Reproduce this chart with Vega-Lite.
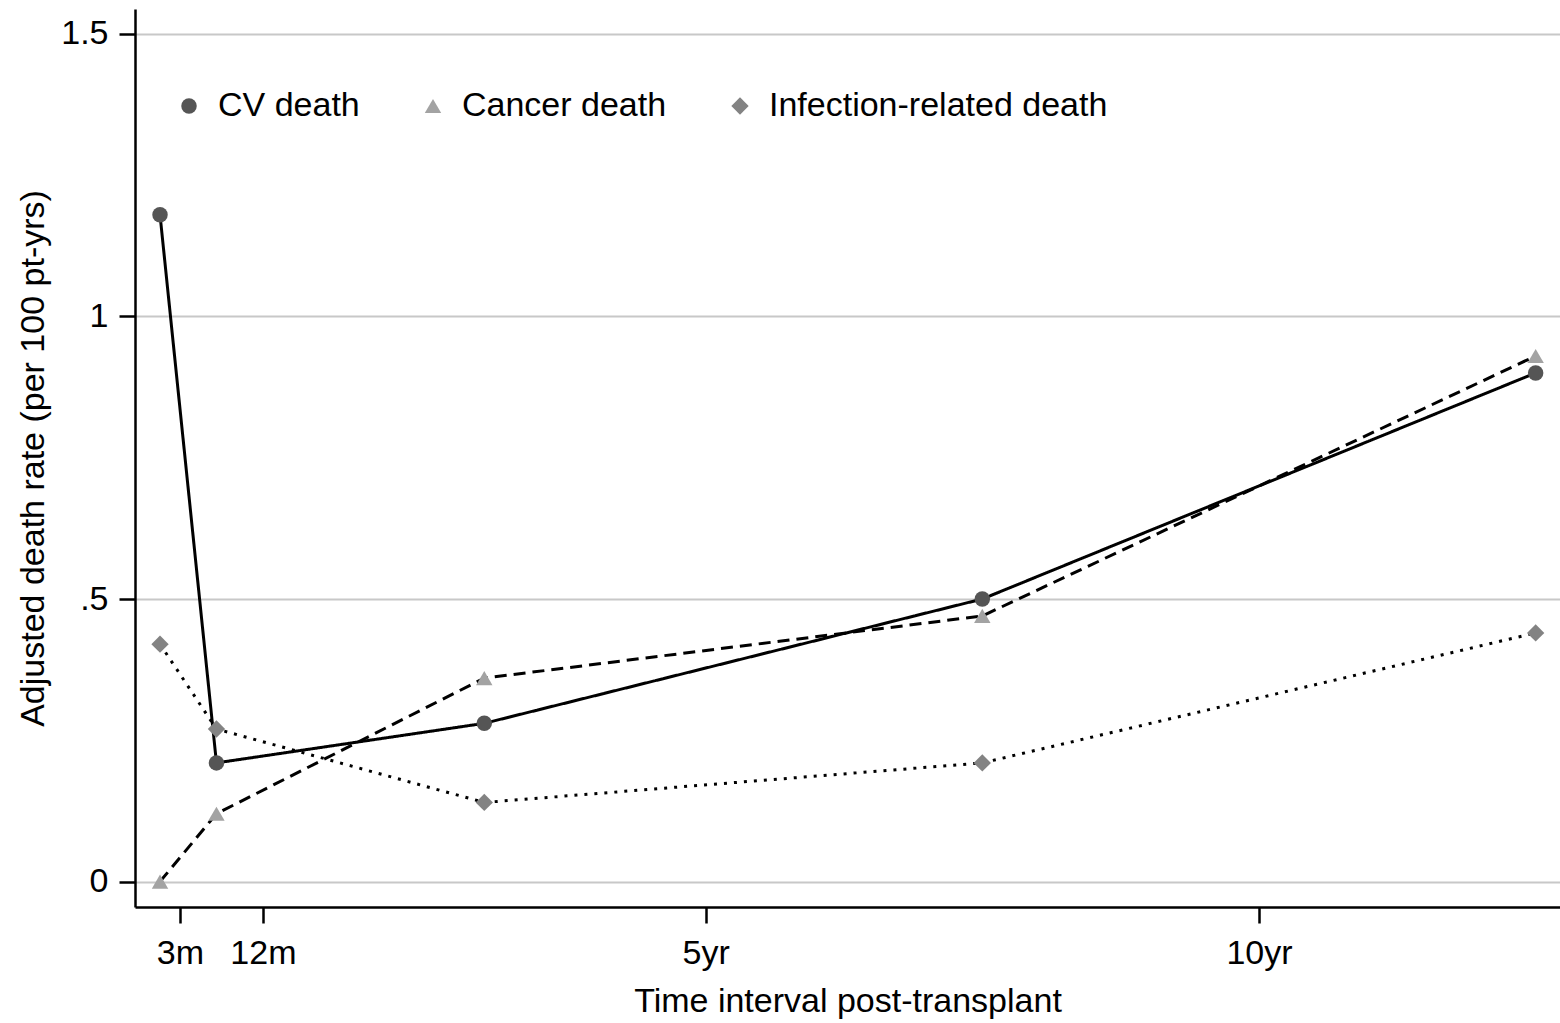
{
  "$schema": "https://vega.github.io/schema/vega-lite/v6.json",
  "autosize": {"type": "none"},
  "padding": {"left": 135, "top": 9, "right": 0, "bottom": 116},
  "width": 1425,
  "height": 898,
  "background": "white",
  "config": {
    "view": {"stroke": null},
    "font": "Liberation Sans",
    "axis": {
      "domainColor": "black",
      "domainWidth": 2.5,
      "tickColor": "black",
      "tickWidth": 2.5,
      "tickSize": 16,
      "labelColor": "black",
      "labelFont": "Liberation Sans",
      "labelFontSize": 34,
      "titleFont": "Liberation Sans",
      "titleFontSize": 34,
      "titleFontWeight": "normal",
      "titleColor": "black"
    }
  },
  "data": {
    "values": [
      {"series": "CV death", "t": 0.07, "rate": 1.18},
      {"series": "CV death", "t": 0.58, "rate": 0.21},
      {"series": "CV death", "t": 3.0, "rate": 0.28},
      {"series": "CV death", "t": 7.5, "rate": 0.50},
      {"series": "CV death", "t": 12.5, "rate": 0.90},
      {"series": "Cancer death", "t": 0.07, "rate": 0.0},
      {"series": "Cancer death", "t": 0.58, "rate": 0.12},
      {"series": "Cancer death", "t": 3.0, "rate": 0.36},
      {"series": "Cancer death", "t": 7.5, "rate": 0.47},
      {"series": "Cancer death", "t": 12.5, "rate": 0.93},
      {"series": "Infection-related death", "t": 0.07, "rate": 0.42},
      {"series": "Infection-related death", "t": 0.58, "rate": 0.27},
      {"series": "Infection-related death", "t": 3.0, "rate": 0.14},
      {"series": "Infection-related death", "t": 7.5, "rate": 0.21},
      {"series": "Infection-related death", "t": 12.5, "rate": 0.44}
    ]
  },
  "encoding": {
    "x": {
      "field": "t",
      "type": "quantitative",
      "scale": {"domain": [-0.156, 12.72], "nice": false, "zero": false},
      "axis": {
        "values": [0.25, 1, 5, 10],
        "labelExpr": "datum.value == 0.25 ? '3m' : datum.value == 1 ? '12m' : datum.value == 5 ? '5yr' : '10yr'",
        "grid": false,
        "labelPadding": 13,
        "title": "Time interval post-transplant",
        "titlePadding": 14
      }
    },
    "y": {
      "field": "rate",
      "type": "quantitative",
      "scale": {"domain": [-0.045, 1.544], "nice": false, "zero": false},
      "axis": {
        "values": [0, 0.5, 1, 1.5],
        "labelExpr": "datum.value == 0.5 ? '.5' : datum.value == 1.5 ? '1.5' : datum.value == 1 ? '1' : '0'",
        "grid": true,
        "gridColor": "#c8c8c8",
        "gridWidth": 2,
        "labelPadding": 11,
        "title": "Adjusted death rate (per 100 pt-yrs)",
        "titlePadding": 10
      }
    }
  },
  "layer": [
    {
      "mark": {"type": "line", "color": "black", "strokeWidth": 3},
      "encoding": {
        "strokeDash": {
          "field": "series",
          "type": "nominal",
          "scale": {
            "domain": ["CV death", "Cancer death", "Infection-related death"],
            "range": [[1, 0], [12, 7], [3, 7]]
          },
          "legend": null
        }
      }
    },
    {
      "mark": {"type": "point", "filled": true, "opacity": 1},
      "encoding": {
        "shape": {
          "field": "series",
          "type": "nominal",
          "scale": {"range": ["circle", "triangle-up", "diamond"]},
          "legend": {
            "orient": "none",
            "legendX": 37,
            "legendY": 80,
            "direction": "horizontal",
            "title": null,
            "padding": 0,
            "symbolSize": 900,
            "symbolStrokeWidth": 0,
            "symbolOpacity": 1,
            "labelColor": "black",
            "labelLimit": 1000,
            "labelFont": "Liberation Sans",
            "labelFontSize": 34,
            "labelOffset": 12,
            "columnPadding": 56
          }
        },
        "color": {
          "field": "series",
          "type": "nominal",
          "scale": {"range": ["#555555", "#a3a3a3", "#838383"]},
          "legend": {
            "orient": "none",
            "legendX": 37,
            "legendY": 80,
            "direction": "horizontal",
            "title": null
          }
        },
        "size": {
          "field": "series",
          "type": "ordinal",
          "scale": {"range": [240, 300, 480]},
          "legend": null
        }
      }
    }
  ]
}
